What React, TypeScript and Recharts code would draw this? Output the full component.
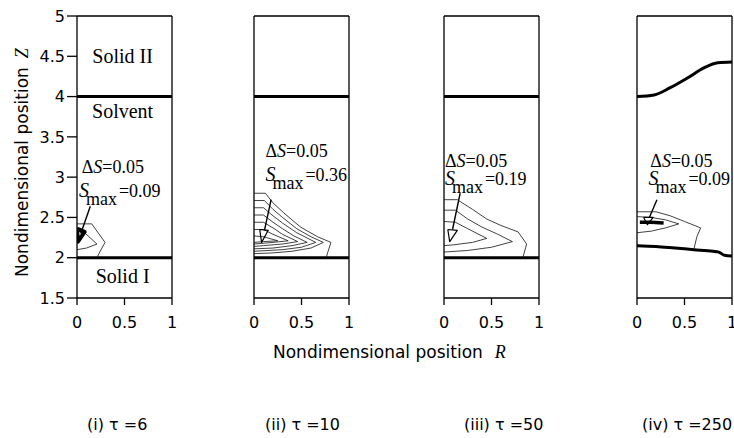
import React from 'react';
import { LineChart, Line, XAxis, YAxis, ReferenceLine, ReferenceDot } from 'recharts';

type Pt = { r: number; z: number };

// axis ticks
const rTicks = [0, 0.5, 1];
const zTicks = [1.5, 2, 2.5, 3, 3.5, 4, 4.5, 5];

// captions / annotation values
const captions = ['(i) τ =6', '(ii) τ =10', '(iii) τ =50', '(iv) τ =250'];
const deltaS = '0.05';
const smaxValues = ['0.09', '0.36', '0.19', '0.09'];
const regionNames = ['Solid II', 'Solvent', 'Solid I'];

// flat interfaces (panels i-iii)
const topInterface = 4.0;
const bottomInterface = 2.0;

// (i) tau = 6
const contours1: Pt[][] = [
  [{ r: 0, z: 2.42 }, { r: 0.155, z: 2.42 }, { r: 0.295, z: 2.19 }, { r: 0.235, z: 2.06 }, { r: 0.21, z: 2.0 }],
  [{ r: 0, z: 2.33 }, { r: 0.08, z: 2.31 }, { r: 0.21, z: 2.17 }, { r: 0.1, z: 2.12 }, { r: 0, z: 2.1 }],
];
const arrow1: Pt[] = [{ r: 0.14, z: 2.64 }, { r: 0.04, z: 2.3 }];
const head1: Pt[] = [{ r: 0.0, z: 2.36 }, { r: 0.08, z: 2.32 }, { r: 0.01, z: 2.2 }, { r: 0.0, z: 2.36 }];

// (ii) tau = 10
const contours2: Pt[][] = [
  [{ r: 0, z: 2.8 }, { r: 0.12, z: 2.8 }, { r: 0.2, z: 2.68 }, { r: 0.31, z: 2.56 }, { r: 0.49, z: 2.38 }, { r: 0.67, z: 2.26 }, { r: 0.81, z: 2.19 }, { r: 0.78, z: 2.08 }, { r: 0.76, z: 2.0 }],
  [{ r: 0, z: 2.71 }, { r: 0.11, z: 2.71 }, { r: 0.2, z: 2.6 }, { r: 0.3, z: 2.5 }, { r: 0.45, z: 2.36 }, { r: 0.6, z: 2.26 }, { r: 0.73, z: 2.19 }, { r: 0.6, z: 2.12 }, { r: 0.4, z: 2.08 }, { r: 0.2, z: 2.06 }, { r: 0, z: 2.05 }],
  [{ r: 0, z: 2.62 }, { r: 0.1, z: 2.62 }, { r: 0.2, z: 2.52 }, { r: 0.3, z: 2.43 }, { r: 0.45, z: 2.31 }, { r: 0.65, z: 2.19 }, { r: 0.5, z: 2.13 }, { r: 0.3, z: 2.1 }, { r: 0, z: 2.08 }],
  [{ r: 0, z: 2.53 }, { r: 0.1, z: 2.53 }, { r: 0.2, z: 2.44 }, { r: 0.3, z: 2.36 }, { r: 0.42, z: 2.27 }, { r: 0.56, z: 2.19 }, { r: 0.4, z: 2.15 }, { r: 0.2, z: 2.12 }, { r: 0, z: 2.11 }],
  [{ r: 0, z: 2.44 }, { r: 0.1, z: 2.44 }, { r: 0.2, z: 2.37 }, { r: 0.3, z: 2.29 }, { r: 0.46, z: 2.2 }, { r: 0.3, z: 2.17 }, { r: 0.1, z: 2.15 }, { r: 0, z: 2.14 }],
  [{ r: 0, z: 2.35 }, { r: 0.1, z: 2.35 }, { r: 0.2, z: 2.29 }, { r: 0.36, z: 2.21 }, { r: 0.2, z: 2.19 }, { r: 0, z: 2.17 }],
  [{ r: 0, z: 2.27 }, { r: 0.1, z: 2.26 }, { r: 0.25, z: 2.21 }, { r: 0.1, z: 2.2 }, { r: 0, z: 2.19 }],
];
const arrow2: Pt[] = [{ r: 0.18, z: 2.72 }, { r: 0.11, z: 2.34 }];
const head2: Pt[] = [{ r: 0.06, z: 2.35 }, { r: 0.15, z: 2.34 }, { r: 0.08, z: 2.19 }, { r: 0.06, z: 2.35 }];

// (iii) tau = 50
const contours3: Pt[][] = [
  [{ r: 0, z: 2.72 }, { r: 0.14, z: 2.72 }, { r: 0.3, z: 2.6 }, { r: 0.45, z: 2.48 }, { r: 0.6, z: 2.4 }, { r: 0.78, z: 2.32 }, { r: 0.87, z: 2.17 }, { r: 0.83, z: 2.0 }],
  [{ r: 0, z: 2.59 }, { r: 0.12, z: 2.59 }, { r: 0.25, z: 2.48 }, { r: 0.4, z: 2.38 }, { r: 0.55, z: 2.3 }, { r: 0.72, z: 2.2 }, { r: 0.5, z: 2.13 }, { r: 0.25, z: 2.09 }, { r: 0, z: 2.07 }],
  [{ r: 0, z: 2.45 }, { r: 0.12, z: 2.44 }, { r: 0.25, z: 2.36 }, { r: 0.45, z: 2.24 }, { r: 0.3, z: 2.19 }, { r: 0.1, z: 2.16 }, { r: 0, z: 2.15 }],
];
const arrow3: Pt[] = [{ r: 0.17, z: 2.8 }, { r: 0.09, z: 2.35 }];
const head3: Pt[] = [{ r: 0.04, z: 2.35 }, { r: 0.14, z: 2.34 }, { r: 0.06, z: 2.2 }, { r: 0.04, z: 2.35 }];

// (iv) tau = 250
const contours4: Pt[][] = [
  [{ r: 0, z: 2.57 }, { r: 0.2, z: 2.57 }, { r: 0.35, z: 2.52 }, { r: 0.5, z: 2.45 }, { r: 0.67, z: 2.37 }, { r: 0.63, z: 2.26 }, { r: 0.6, z: 2.11 }],
  [{ r: 0, z: 2.51 }, { r: 0.15, z: 2.5 }, { r: 0.3, z: 2.47 }, { r: 0.44, z: 2.42 }, { r: 0.3, z: 2.37 }, { r: 0.15, z: 2.33 }, { r: 0, z: 2.31 }],
];
const core4: Pt[] = [{ r: 0.03, z: 2.44 }, { r: 0.15, z: 2.44 }, { r: 0.28, z: 2.43 }];
const upper4: Pt[] = [{ r: 0, z: 4.0 }, { r: 0.18, z: 4.02 }, { r: 0.35, z: 4.11 }, { r: 0.53, z: 4.23 }, { r: 0.71, z: 4.36 }, { r: 0.85, z: 4.42 }, { r: 1, z: 4.43 }];
const lower4: Pt[] = [{ r: 0, z: 2.15 }, { r: 0.2, z: 2.14 }, { r: 0.4, z: 2.12 }, { r: 0.6, z: 2.1 }, { r: 0.8, z: 2.08 }, { r: 0.86, z: 2.07 }, { r: 0.92, z: 2.03 }, { r: 1, z: 2.02 }];
const arrow4: Pt[] = [{ r: 0.21, z: 2.72 }, { r: 0.13, z: 2.5 }];
const head4: Pt[] = [{ r: 0.07, z: 2.5 }, { r: 0.17, z: 2.5 }, { r: 0.11, z: 2.41 }, { r: 0.07, z: 2.5 }];

const SERIF = 'Liberation Serif, Times New Roman, serif';
const SANS = 'DejaVu Sans, sans-serif';
const PLOT_W = 95;
const PLOT_H = 282;
const TOP = 16;
const PAD = 12;
const ZAXIS_W = 60;

const textShape = (content: React.ReactNode, anchor: 'start' | 'middle' = 'start', size = 18) =>
  (p: any) => (
    <text x={p.cx} y={p.cy} textAnchor={anchor} fontFamily={SERIF} fontSize={size} fill="#000">
      {content}
    </text>
  );

interface PanelProps {
  x0: number;
  showZ: boolean;
  contours: Pt[][];
  core?: Pt[];
  upper?: Pt[];
  lower?: Pt[];
  arrow: Pt[];
  head: Pt[];
  filledHead?: boolean;
  dsAt: Pt;
  smaxAt: Pt;
  smax: string;
  names?: boolean;
}

const Panel: React.FC<PanelProps> = ({ x0, showZ, contours, core, upper, lower, arrow, head, filledHead, dsAt, smaxAt, smax, names }) => {
  const yw = showZ ? ZAXIS_W : 0;
  const lm = showZ ? 0 : PAD;
  const width = lm + yw + PLOT_W + 10;
  const height = TOP + PLOT_H + 40;
  return (
    <div style={{ position: 'absolute', left: x0 - yw - lm, top: 0 }}>
      <LineChart width={width} height={height} margin={{ top: TOP, right: 10, left: lm, bottom: 0 }}>
        <XAxis
          type="number"
          dataKey="r"
          domain={[0, 1]}
          ticks={rTicks}
          interval={0}
          allowDataOverflow
          height={40}
          tickSize={7}
          tickMargin={12}
          axisLine={{ stroke: '#000', strokeWidth: 1.3 }}
          tickLine={{ stroke: '#000', strokeWidth: 1.3 }}
          tick={{ fill: '#000', fontSize: 16, fontFamily: SANS }}
        />
        {showZ ? (
          <YAxis
            type="number"
            domain={[1.5, 5]}
            ticks={zTicks}
            interval={0}
            allowDataOverflow
            width={ZAXIS_W}
            tickSize={10}
            tickMargin={2}
            axisLine={{ stroke: '#000', strokeWidth: 1.3 }}
            tickLine={{ stroke: '#000', strokeWidth: 1.3 }}
            tick={{ fill: '#000', fontSize: 16, fontFamily: SANS }}
          />
        ) : (
          <YAxis type="number" domain={[1.5, 5]} allowDataOverflow hide />
        )}

        {/* box outline */}
        {!showZ && <ReferenceLine x={0} stroke="#000" strokeWidth={1.3} />}
        <ReferenceLine x={1} stroke="#000" strokeWidth={1.3} />
        <ReferenceLine y={5} stroke="#000" strokeWidth={1.3} />

        {/* interfaces */}
        {!upper && <ReferenceLine y={topInterface} stroke="#000" strokeWidth={3} />}
        {!lower && <ReferenceLine y={bottomInterface} stroke="#000" strokeWidth={3} />}
        {upper && (
          <Line data={upper} dataKey="z" type="monotone" stroke="#000" strokeWidth={3} dot={false} isAnimationActive={false} />
        )}
        {lower && (
          <Line data={lower} dataKey="z" type="monotone" stroke="#000" strokeWidth={3} dot={false} isAnimationActive={false} />
        )}

        {/* concentration contours */}
        {contours.map((c, i) => (
          <Line key={i} data={c} dataKey="z" type="linear" stroke="#111" strokeWidth={0.8} dot={false} isAnimationActive={false} />
        ))}
        {core && (
          <Line data={core} dataKey="z" type="linear" stroke="#000" strokeWidth={3.5} dot={false} isAnimationActive={false} />
        )}

        {/* S max arrow */}
        <Line data={arrow} dataKey="z" type="linear" stroke="#000" strokeWidth={1.4} dot={false} isAnimationActive={false} />
        <Line
          data={head}
          dataKey="z"
          type="linear"
          stroke="#000"
          strokeWidth={filledHead ? 4 : 1.2}
          strokeLinejoin="round"
          dot={false}
          isAnimationActive={false}
        />

        <ReferenceDot
          x={dsAt.r}
          y={dsAt.z}
          r={0}
          ifOverflow="visible"
          shape={textShape(
            <>
              Δ<tspan fontStyle="italic">S</tspan>={deltaS}
            </>,
            'start',
            18
          )}
        />
        <ReferenceDot
          x={smaxAt.r}
          y={smaxAt.z}
          r={0}
          ifOverflow="visible"
          shape={textShape(
            <>
              <tspan fontStyle="italic" fontSize={20}>S</tspan>
              <tspan fontSize={18} dx={-3} dy={8}>max</tspan>
              <tspan dx={2} dy={-8}>={smax}</tspan>
            </>,
            'start',
            18
          )}
        />
        {names && (
          <>
            <ReferenceDot x={0.48} y={4.42} r={0} ifOverflow="visible" shape={textShape(regionNames[0], 'middle', 20)} />
            <ReferenceDot x={0.48} y={3.74} r={0} ifOverflow="visible" shape={textShape(regionNames[1], 'middle', 20)} />
            <ReferenceDot x={0.48} y={1.69} r={0} ifOverflow="visible" shape={textShape(regionNames[2], 'middle', 20)} />
          </>
        )}
      </LineChart>
    </div>
  );
};

const captionX = [87, 265, 464, 642];

export default function App() {
  return (
    <div style={{ position: 'absolute', left: 0, top: 0, width: 734, height: 438, overflow: 'hidden', background: '#fff' }}>
      <Panel x0={77} showZ contours={contours1} arrow={arrow1} head={head1} filledHead dsAt={{ r: 0.05, z: 3.05 }} smaxAt={{ r: 0.02, z: 2.75 }} smax={smaxValues[0]} names />
      <Panel x0={254} showZ={false} contours={contours2} arrow={arrow2} head={head2} dsAt={{ r: 0.12, z: 3.25 }} smaxAt={{ r: 0.12, z: 2.95 }} smax={smaxValues[1]} />
      <Panel x0={444} showZ={false} contours={contours3} arrow={arrow3} head={head3} dsAt={{ r: 0.01, z: 3.13 }} smaxAt={{ r: 0.01, z: 2.9 }} smax={smaxValues[2]} />
      <Panel x0={637} showZ={false} contours={contours4} core={core4} upper={upper4} lower={lower4} arrow={arrow4} head={head4} dsAt={{ r: 0.14, z: 3.13 }} smaxAt={{ r: 0.12, z: 2.9 }} smax={smaxValues[3]} />

      <svg width={734} height={438} style={{ position: 'absolute', left: 0, top: 0, pointerEvents: 'none' }}>
        <text transform="translate(28,277) rotate(-90)" fontFamily={SANS} fontSize={17} fill="#000">
          Nondimensional position
          <tspan dx={9} fontFamily={SERIF} fontStyle="italic" fontSize={18}>Z</tspan>
        </text>
        <text x={273} y={358} fontFamily={SANS} fontSize={17} fill="#000">
          Nondimensional position
          <tspan dx={12} fontFamily={SERIF} fontStyle="italic" fontSize={18}>R</tspan>
        </text>
        {captions.map((c, i) => (
          <text key={c} x={captionX[i]} y={430} fontFamily={SANS} fontSize={16} fill="#000">
            {c}
          </text>
        ))}
      </svg>
    </div>
  );
}
